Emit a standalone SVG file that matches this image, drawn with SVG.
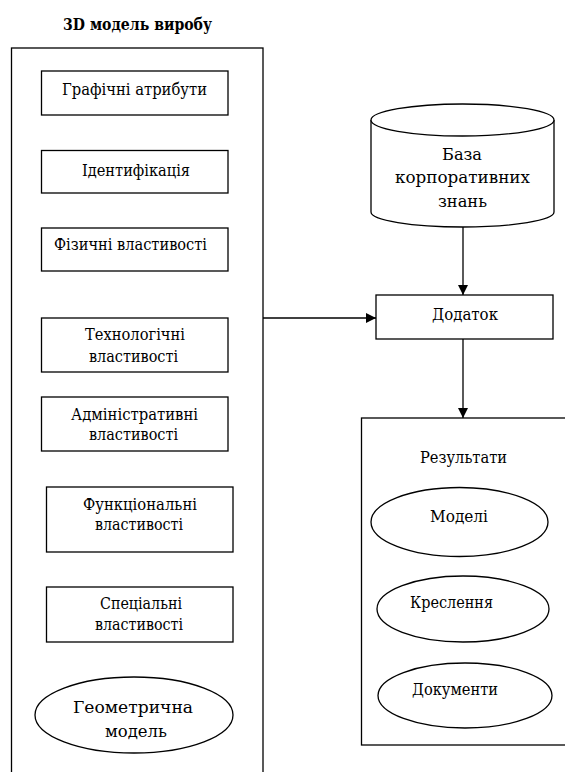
<svg xmlns="http://www.w3.org/2000/svg" width="565" height="772" viewBox="0 0 565 772">
<defs>
<style>
.b{fill:#fff;stroke:#000;stroke-width:1.3}
.n{fill:none;stroke:#000;stroke-width:1.3}
.t{font-family:"DejaVu Serif","Liberation Serif",serif;font-size:16px;fill:#000}
.h{font-family:"DejaVu Serif","Liberation Serif",serif;font-size:16px;font-weight:bold;fill:#000}
</style>
<marker id="ah" viewBox="0 0 10 10" refX="10" refY="5" markerWidth="10" markerHeight="10" markerUnits="userSpaceOnUse" orient="auto">
<path d="M0,0 L10,5 L0,10 Z" fill="#000"/>
</marker>
</defs>
<rect width="565" height="772" fill="#fff"/>
<text class="h" x="63" y="30" textLength="149" lengthAdjust="spacingAndGlyphs">3D модель виробу</text>
<g id="model3d">
<rect class="b" x="11.5" y="48" width="251.5" height="740"/>
</g>
<g id="graf">
<rect class="b" x="41.5" y="71" width="186.5" height="44"/>
<text class="t" x="62" y="95" textLength="145" lengthAdjust="spacingAndGlyphs">Графічні атрибути</text>
</g>
<g id="ident">
<rect class="b" x="41.5" y="150.5" width="186.5" height="42.5"/>
<text class="t" x="82" y="176" textLength="108" lengthAdjust="spacingAndGlyphs">Ідентифікація</text>
</g>
<g id="fiz">
<rect class="b" x="41.5" y="228" width="186.5" height="43"/>
<text class="t" x="54" y="250" textLength="153" lengthAdjust="spacingAndGlyphs">Фізичні властивості</text>
</g>
<g id="tekh">
<rect class="b" x="41.5" y="318" width="186.5" height="54"/>
<text class="t" x="85" y="340" textLength="100" lengthAdjust="spacingAndGlyphs">Технологічні</text>
<text class="t" x="89" y="362" textLength="89" lengthAdjust="spacingAndGlyphs">властивості</text>
</g>
<g id="adm">
<rect class="b" x="41.5" y="397" width="186.5" height="54"/>
<text class="t" x="71" y="420" textLength="127" lengthAdjust="spacingAndGlyphs">Адміністративні</text>
<text class="t" x="89" y="440" textLength="89" lengthAdjust="spacingAndGlyphs">властивості</text>
</g>
<g id="funk">
<rect class="b" x="46.5" y="487" width="186.5" height="65"/>
<text class="t" x="83" y="510" textLength="114" lengthAdjust="spacingAndGlyphs">Функціональні</text>
<text class="t" x="95" y="530" textLength="88" lengthAdjust="spacingAndGlyphs">властивості</text>
</g>
<g id="spec">
<rect class="b" x="46.5" y="587" width="186.5" height="55"/>
<text class="t" x="100" y="609" textLength="82" lengthAdjust="spacingAndGlyphs">Спеціальні</text>
<text class="t" x="95" y="630" textLength="88" lengthAdjust="spacingAndGlyphs">властивості</text>
</g>
<g id="geom">
<ellipse class="b" cx="134" cy="715" rx="99" ry="38"/>
<text class="t" x="73" y="713" textLength="120" lengthAdjust="spacingAndGlyphs">Геометрична</text>
<text class="t" x="105" y="737" textLength="62" lengthAdjust="spacingAndGlyphs">модель</text>
</g>
<g id="baza">
<path class="b" d="M371,120 L371,212 A91.5,15 0 0 0 554,212 L554,120"/>
<ellipse class="b" cx="462.5" cy="120" rx="91.5" ry="16"/>
<text class="t" x="442" y="160" textLength="40" lengthAdjust="spacingAndGlyphs">База</text>
<text class="t" x="395" y="183" textLength="135" lengthAdjust="spacingAndGlyphs">корпоративних</text>
<text class="t" x="438" y="207" textLength="49" lengthAdjust="spacingAndGlyphs">знань</text>
</g>
<g id="dodatok">
<rect class="b" x="376" y="295" width="177" height="44"/>
<text class="t" x="432" y="320" textLength="66" lengthAdjust="spacingAndGlyphs">Додаток</text>
</g>
<g id="rezult">
<rect class="b" x="361.5" y="418" width="210" height="327"/>
<text class="t" x="420" y="463" textLength="87" lengthAdjust="spacingAndGlyphs">Результати</text>
</g>
<g id="modeli">
<ellipse class="b" cx="459.5" cy="522" rx="88.5" ry="34.5"/>
<text class="t" x="430" y="522" textLength="58" lengthAdjust="spacingAndGlyphs">Моделі</text>
</g>
<g id="kreslennia">
<ellipse class="b" cx="463" cy="609" rx="86" ry="33"/>
<text class="t" x="410" y="608" textLength="83" lengthAdjust="spacingAndGlyphs">Креслення</text>
</g>
<g id="dokumenty">
<ellipse class="b" cx="465" cy="695.5" rx="87" ry="32.5"/>
<text class="t" x="412" y="695" textLength="86" lengthAdjust="spacingAndGlyphs">Документи</text>
</g>
<g id="connectors">
<line class="n" x1="463" y1="227" x2="463" y2="295" marker-end="url(#ah)"/>
<line class="n" x1="263" y1="318" x2="376" y2="318" marker-end="url(#ah)"/>
<line class="n" x1="463" y1="339" x2="463" y2="418" marker-end="url(#ah)"/>
</g>
</svg>
